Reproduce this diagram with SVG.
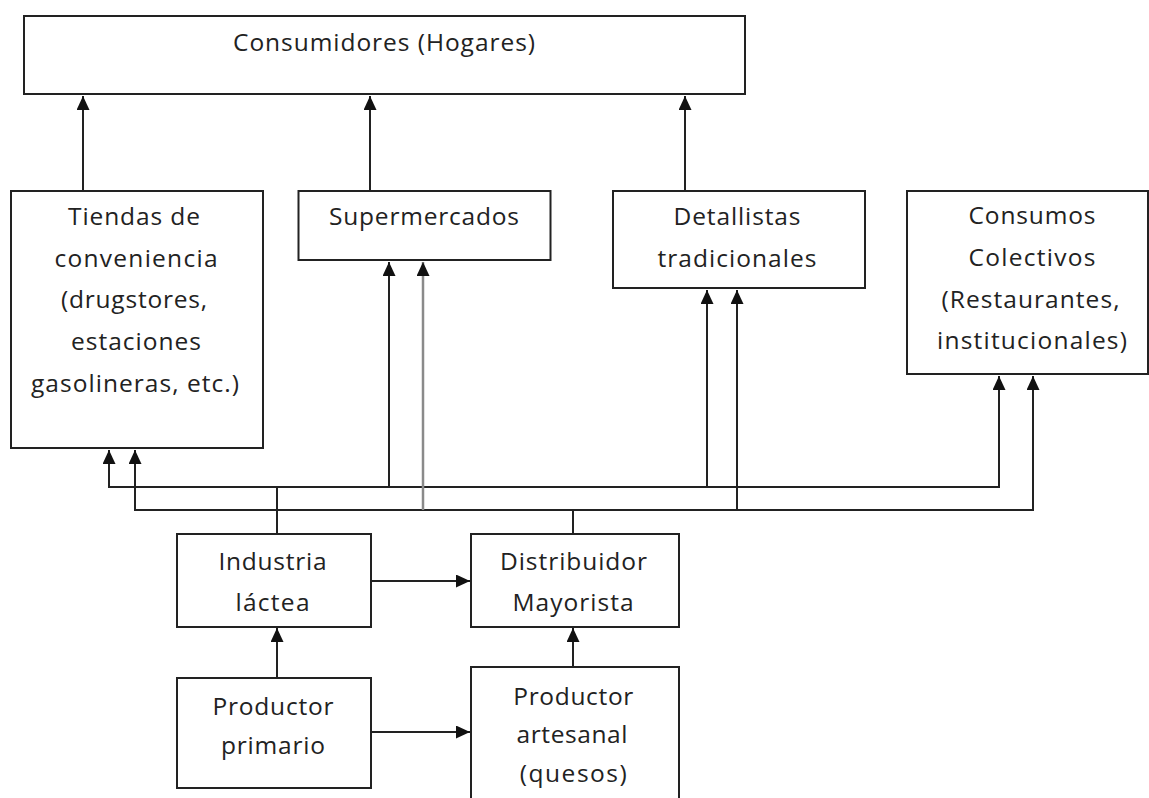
<svg xmlns="http://www.w3.org/2000/svg" width="1149" height="798" viewBox="0 0 1149 798">
<style>
.box{fill:#fff;stroke:#222;stroke-width:2}
.t{font-family:"Open Sans","Noto Sans","Liberation Sans",sans-serif;font-size:24.5px;fill:#222;text-anchor:middle}
.c{fill:none;stroke:#222;stroke-width:2}
.g{fill:none;stroke:#8a8a8a;stroke-width:2.5}
</style>
<defs>
<marker id="arr" viewBox="0 0 14 13" refX="14" refY="6.5" markerWidth="14" markerHeight="13" markerUnits="userSpaceOnUse" orient="auto">
<path d="M0,0 L14,6.5 L0,13 z" fill="#111"/>
</marker>
</defs>
<rect width="1149" height="798" fill="#fff"/>
<g id="connectors">
<path class="c" d="M83,191 V96" marker-end="url(#arr)"/>
<path class="c" d="M370,191 V96" marker-end="url(#arr)"/>
<path class="c" d="M685,191 V96" marker-end="url(#arr)"/>
<path class="c" d="M277,534 V487 H109 V450" marker-end="url(#arr)"/>
<path class="c" d="M277,487 H389 V262" marker-end="url(#arr)"/>
<path class="c" d="M389,487 H707 V290" marker-end="url(#arr)"/>
<path class="c" d="M707,487 H999 V376" marker-end="url(#arr)"/>
<path class="c" d="M573,534 V510 H135 V450" marker-end="url(#arr)"/>
<path class="g" d="M423,510 V262" marker-end="url(#arr)"/>
<path class="c" d="M573,510 H737 V290" marker-end="url(#arr)"/>
<path class="c" d="M737,510 H1033 V376" marker-end="url(#arr)"/>
<path class="c" d="M371,581 H470" marker-end="url(#arr)"/>
<path class="c" d="M277,678 V628" marker-end="url(#arr)"/>
<path class="c" d="M371,732 H470" marker-end="url(#arr)"/>
<path class="c" d="M573,667 V628" marker-end="url(#arr)"/>
</g>
<g id="consumidores">
<rect class="box" x="24" y="16" width="721" height="78"/>
<text class="t" x="384" y="51" textLength="302" lengthAdjust="spacing">Consumidores (Hogares)</text>
</g>
<g id="tiendas">
<rect class="box" x="11" y="191" width="252" height="257"/>
<text class="t" x="134" y="225" textLength="132" lengthAdjust="spacing">Tiendas de</text>
<text class="t" x="136" y="267" textLength="163" lengthAdjust="spacing">conveniencia</text>
<text class="t" x="134" y="308" textLength="146" lengthAdjust="spacing">(drugstores,</text>
<text class="t" x="136" y="350" textLength="130" lengthAdjust="spacing">estaciones</text>
<text class="t" x="135" y="391.5" textLength="208" lengthAdjust="spacing">gasolineras, etc.)</text>
</g>
<g id="supermercados">
<rect class="box" x="298.5" y="191" width="252" height="69"/>
<text class="t" x="424" y="225" textLength="190" lengthAdjust="spacing">Supermercados</text>
</g>
<g id="detallistas">
<rect class="box" x="613" y="191" width="252" height="97"/>
<text class="t" x="737" y="225" textLength="127" lengthAdjust="spacing">Detallistas</text>
<text class="t" x="737" y="267" textLength="159" lengthAdjust="spacing">tradicionales</text>
</g>
<g id="consumos">
<rect class="box" x="907" y="191" width="241" height="183"/>
<text class="t" x="1032" y="224" textLength="127" lengthAdjust="spacing">Consumos</text>
<text class="t" x="1032" y="266" textLength="127" lengthAdjust="spacing">Colectivos</text>
<text class="t" x="1030.5" y="308" textLength="178" lengthAdjust="spacing">(Restaurantes,</text>
<text class="t" x="1032" y="349" textLength="190" lengthAdjust="spacing">institucionales)</text>
</g>
<g id="industria">
<rect class="box" x="177" y="534" width="194" height="93"/>
<text class="t" x="272.5" y="570" textLength="108" lengthAdjust="spacing">Industria</text>
<text class="t" x="272.5" y="610.5" textLength="74" lengthAdjust="spacing">láctea</text>
</g>
<g id="distribuidor">
<rect class="box" x="471" y="534" width="208" height="93"/>
<text class="t" x="573.5" y="570" textLength="147" lengthAdjust="spacing">Distribuidor</text>
<text class="t" x="573" y="610.5" textLength="121" lengthAdjust="spacing">Mayorista</text>
</g>
<g id="productor-primario">
<rect class="box" x="177" y="678" width="194" height="110"/>
<text class="t" x="273" y="715" textLength="121" lengthAdjust="spacing">Productor</text>
<text class="t" x="273" y="753.5" textLength="104" lengthAdjust="spacing">primario</text>
</g>
<g id="productor-artesanal">
<rect class="box" x="471" y="667" width="208" height="145"/>
<text class="t" x="573.3" y="704.5" textLength="120" lengthAdjust="spacing">Productor</text>
<text class="t" x="572" y="743" textLength="111" lengthAdjust="spacing">artesanal</text>
<text class="t" x="573.3" y="782" textLength="107" lengthAdjust="spacing">(quesos)</text>
</g>
</svg>
